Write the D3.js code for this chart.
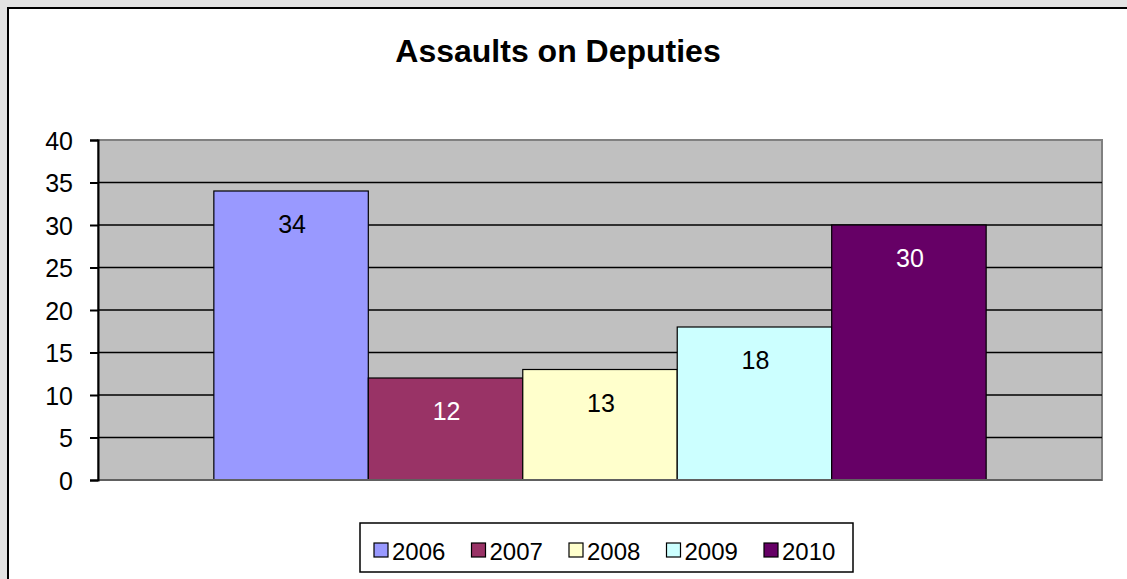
<!DOCTYPE html>
<html>
<head>
<meta charset="utf-8">
<script src="https://cdn.jsdelivr.net/npm/d3@7"></script>
<style>
  html, body { margin: 0; padding: 0; background: #e3e3e3; }
  svg { display: block; font-family: "Liberation Sans", Arial, sans-serif; }
</style>
</head>
<body>
<svg id="chart" width="1127" height="579"></svg>
<script>
// Assaults on deputies per year
const years = ["2006", "2007", "2008", "2009", "2010"];
const assaults = [34, 12, 13, 18, 30];
const barColors = ["#9999FF", "#993366", "#FFFFCC", "#CCFFFF", "#660066"];
const labelColors = ["#000000", "#FFFFFF", "#000000", "#000000", "#FFFFFF"];
const yTicks = [0, 5, 10, 15, 20, 25, 30, 35, 40];

const svg = d3.select("#chart");

// chart frame
svg.append("rect")
  .attr("x", 8).attr("y", 8)
  .attr("width", 1140).attr("height", 600)
  .attr("fill", "#ffffff").attr("stroke", "#000").attr("stroke-width", 2);

const plot = { left: 98, right: 1102, top: 140, bottom: 480 };

const y = d3.scaleLinear().domain([0, 40]).range([plot.bottom, plot.top]);
const x = d3.scaleBand()
  .domain(years)
  .range([plot.left, plot.right])
  .paddingInner(0)
  .paddingOuter(0.75);

// plot background
svg.append("rect")
  .attr("x", plot.left).attr("y", plot.top)
  .attr("width", plot.right - plot.left).attr("height", plot.bottom - plot.top)
  .attr("fill", "#c0c0c0").attr("stroke", "#808080").attr("stroke-width", 2);

// gridlines
svg.append("g")
  .selectAll("line")
  .data(yTicks.filter(t => t > 0 && t < 40))
  .join("line")
  .attr("x1", plot.left).attr("x2", plot.right)
  .attr("y1", d => y(d)).attr("y2", d => y(d))
  .attr("stroke", "#000").attr("stroke-width", 1.5);

// bars
svg.append("g")
  .selectAll("rect")
  .data(years)
  .join("rect")
  .attr("x", d => x(d))
  .attr("y", (d, i) => y(assaults[i]))
  .attr("width", x.bandwidth())
  .attr("height", (d, i) => y(0) - y(assaults[i]))
  .attr("fill", (d, i) => barColors[i])
  .attr("stroke", "#000").attr("stroke-width", 1.2);

// value labels
svg.append("g")
  .selectAll("text")
  .data(years)
  .join("text")
  .attr("x", d => x(d) + x.bandwidth() / 2 + 1)
  .attr("y", (d, i) => y(assaults[i]) + 42)
  .attr("text-anchor", "middle")
  .attr("font-size", 25)
  .attr("fill", (d, i) => labelColors[i])
  .text((d, i) => assaults[i]);

// baseline
svg.append("line")
  .attr("x1", plot.left).attr("x2", plot.right)
  .attr("y1", y(0)).attr("y2", y(0))
  .attr("stroke", "#606060").attr("stroke-width", 2);

// y axis
const yAxis = d3.axisLeft(y).tickValues(yTicks).tickSize(8).tickPadding(17);
const ga = svg.append("g")
  .attr("transform", `translate(${plot.left},0)`)
  .call(yAxis);
ga.select(".domain").attr("stroke", "#000").attr("stroke-width", 2);
ga.selectAll(".tick line").attr("stroke", "#000").attr("stroke-width", 2);
ga.selectAll(".tick text")
  .attr("font-size", 25)
  .attr("dy", "0.36em")
  .attr("font-family", "Liberation Sans, Arial, sans-serif")
  .attr("fill", "#000");

// title
svg.append("text")
  .attr("x", 558).attr("y", 62)
  .attr("text-anchor", "middle")
  .attr("font-size", 32).attr("font-weight", "bold")
  .text("Assaults on Deputies");

// legend
const legend = svg.append("g");
legend.append("rect")
  .attr("x", 360).attr("y", 523)
  .attr("width", 493).attr("height", 49)
  .attr("fill", "#fff").attr("stroke", "#000").attr("stroke-width", 1.5);

const itemStep = 97.5;
const items = legend.selectAll("g.item")
  .data(years)
  .join("g")
  .attr("class", "item")
  .attr("transform", (d, i) => `translate(${374 + i * itemStep},0)`);
items.append("rect")
  .attr("x", 0).attr("y", 543)
  .attr("width", 14).attr("height", 14)
  .attr("fill", (d, i) => barColors[i])
  .attr("stroke", "#000").attr("stroke-width", 1.2);
items.append("text")
  .attr("x", 18).attr("y", 560)
  .attr("font-size", 24)
  .text(d => d);
</script>
</body>
</html>
